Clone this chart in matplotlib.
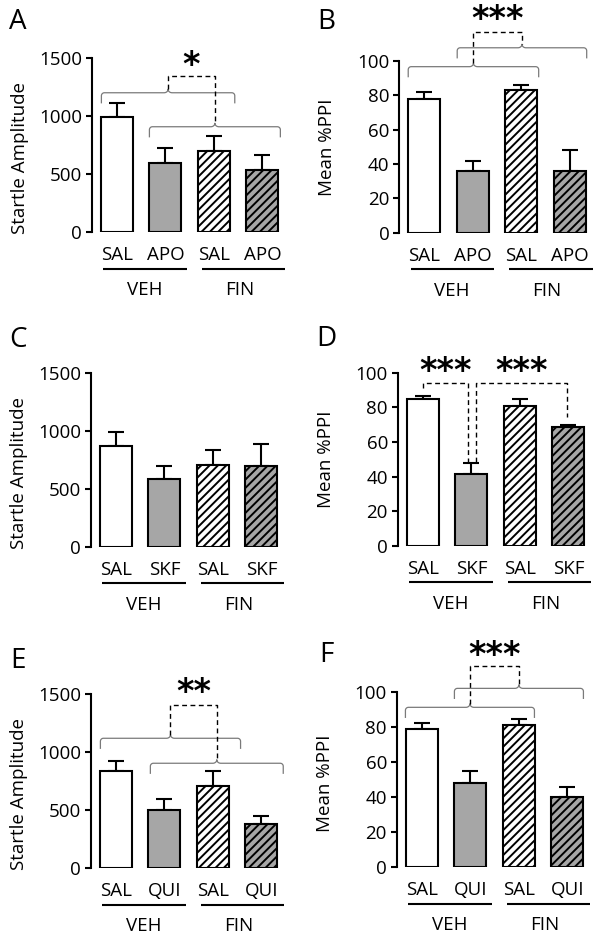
import numpy as np
import matplotlib
matplotlib.use('Agg')
import matplotlib.pyplot as plt

plt.rcParams['font.family'] = ['Open Sans', 'DejaVu Sans']
plt.rcParams['hatch.linewidth'] = 1.4

# ---------------- data ----------------
groups = ['VEH', 'FIN']
drugs_AB = ['SAL', 'APO', 'SAL', 'APO']
drugs_CD = ['SAL', 'SKF', 'SAL', 'SKF']
drugs_EF = ['SAL', 'QUI', 'SAL', 'QUI']

startle_ticks = [0, 500, 1000, 1500]
ppi_ticks = [0, 20, 40, 60, 80, 100]

A_mean = [995, 600, 700, 540]
A_sem = [117, 125, 132, 128]
B_mean = [78, 36, 83, 36]
B_sem = [4, 6, 3.3, 12]
C_mean = [870, 580, 705, 700]
C_sem = [116, 115, 130, 187]
D_mean = [85, 41.5, 81, 68.5]
D_sem = [1.7, 6.3, 3.6, 1.5]
E_mean = [840, 500, 705, 385]
E_sem = [83, 95, 131, 68]
F_mean = [79, 48, 81, 40]
F_sem = [3.2, 6.6, 3.5, 6]

fills = ['white', '#a6a6a6', 'white', '#a6a6a6']
hatches = ['', '', '////', '////']

# ---------------- layout (pixels) ----------------
FW, FH = 601, 939
fig = plt.figure(figsize=(FW / 100, FH / 100), dpi=100)
XL = (-0.52, 3.6)
SPACING = 48.5
AX_W = (XL[1] - XL[0]) * SPACING


def make_ax(left_px, y0_px, ytop_px):
    return fig.add_axes([left_px / FW, (FH - y0_px) / FH, AX_W / FW,
                         (y0_px - ytop_px) / FH])


def px_scale(ax):
    bb = ax.get_position()
    w = bb.width * FW
    h = bb.height * FH
    x0, x1 = ax.get_xlim()
    y0, y1 = ax.get_ylim()
    return (x1 - x0) / w, (y1 - y0) / h


def draw_panel(ax, means, sems, drugs, ylabel, ticks, letter, letter_xy, ylab_frac):
    x = np.arange(len(means))
    ax.set_xlim(*XL)
    ax.set_ylim(ticks[0], ticks[-1])
    for i in range(len(means)):
        ax.bar(x[i], means[i], width=0.66, color=fills[i], edgecolor='black',
               linewidth=1.5, hatch=hatches[i], zorder=3)
    ax.errorbar(x, means, yerr=[np.zeros(len(sems)), sems], fmt='none',
                ecolor='black', elinewidth=1.5, capsize=6, capthick=1.5, zorder=2)
    for s in ['top', 'right', 'bottom']:
        ax.spines[s].set_visible(False)
    ax.spines['left'].set_linewidth(1.5)
    ax.set_yticks(ticks)
    ax.set_yticklabels([str(t) for t in ticks])
    ax.tick_params(axis='y', length=4, width=1.5, labelsize=13.5, pad=3)
    ax.set_xticks([])
    ax.set_ylabel(ylabel, fontsize=13.5)
    ax.yaxis.set_label_coords(-63 / AX_W, ylab_frac)
    sx, sy = px_scale(ax)
    for i, d in enumerate(drugs):
        ax.text(x[i], -28.0 * sy, d, ha='center', va='baseline', fontsize=13.5,
                clip_on=False)
    for (a, b), g, gx in zip([(-0.28, 1.44), (1.75, 3.47)], groups, [0.57, 2.53]):
        ax.plot([a, b], [-36.7 * sy] * 2, color='black', lw=1.5, clip_on=False,
                solid_capstyle='butt')
        ax.text(gx, -63.0 * sy, g, ha='center', va='baseline', fontsize=13.5,
                clip_on=False)
    fig.text(letter_xy[0] / FW, 1 - letter_xy[1] / FH, letter, fontsize=20,
             ha='center', va='center')
    return sx, sy


def brace(ax, x0, x1, y, sx, sy, drop=10, peak=3.5, r=3, r2=4):
    xm = (x0 + x1) / 2
    n = 12
    xs, ys = [x0, x0], [y - drop * sy, y - r * sy]
    a = np.linspace(np.pi, np.pi / 2, n)
    xs += list(x0 + r * sx + r * sx * np.cos(a)); ys += list(y - r * sy + r * sy * np.sin(a))
    a = np.linspace(-np.pi / 2, 0, n)
    xs += list(xm - r2 * sx + r2 * sx * np.cos(a)); ys += list(y + peak * sy + peak * sy * np.sin(a))
    a = np.linspace(np.pi, 1.5 * np.pi, n)
    xs += list(xm + r2 * sx + r2 * sx * np.cos(a)); ys += list(y + peak * sy + peak * sy * np.sin(a))
    a = np.linspace(np.pi / 2, 0, n)
    xs += list(x1 - r * sx + r * sx * np.cos(a)); ys += list(y - r * sy + r * sy * np.sin(a))
    xs += [x1]; ys += [y - drop * sy]
    ax.plot(xs, ys, color='#7a7a7a', lw=0.9, clip_on=False, zorder=4)
    return xm, y + peak * sy


DASH = (0, (3.5, 2.5))


def connector(ax, xa, ya, xb, yb, ytop):
    ax.plot([xa, xa, xb, xb], [ya, ytop, ytop, yb], color='black', lw=1.0,
            ls=DASH, clip_on=False, zorder=4)


def stars(ax, x, y, s):
    ax.text(x, y, s, ha='center', va='center', fontsize=24, fontweight='bold',
            family='DejaVu Sans', clip_on=False)


def brace_pair(ax, sx, sy, b1, b2, ytop, ystar, s):
    c1 = brace(ax, b1[0], b1[1], b1[2], sx, sy)
    c2 = brace(ax, b2[0], b2[1], b2[2], sx, sy)
    connector(ax, c1[0], c1[1], c2[0], c2[1], ytop)
    stars(ax, (c1[0] + c2[0]) / 2, ystar, s)


# Panel A
axA = make_ax(91.7, 232.3, 58.3)
sx, sy = draw_panel(axA, A_mean, A_sem, drugs_AB, 'Startle Amplitude', startle_ticks,
                    'A', (18, 21.7), 0.425)
brace_pair(axA, sx, sy, (-0.32, 2.43, 1203), (0.67, 3.37, 910), 1347, 1440, '*')

# Panel B
axB = make_ax(399, 232.7, 61)
sx, sy = draw_panel(axB, B_mean, B_sem, drugs_AB, 'Mean %PPI', ppi_ticks,
                    'B', (326.7, 21.7), 0.5)
brace_pair(axB, sx, sy, (-0.33, 2.36, 96.7), (0.68, 3.35, 107.7), 117.1, 124, '***')

# Panel C
axC = make_ax(90.7, 546.7, 372.7)
draw_panel(axC, C_mean, C_sem, drugs_CD, 'Startle Amplitude', startle_ticks,
           'C', (18, 340), 0.425)

# Panel D
axD = make_ax(397.7, 545.7, 372.7)
sx, sy = draw_panel(axD, D_mean, D_sem, drugs_CD, 'Mean %PPI', ppi_ticks,
                    'D', (326.7, 339), 0.5)
connector(axD, 0, 91, 0.93, 48.6, 93.9)
stars(axD, 0.465, 100.5, '***')
connector(axD, 1.09, 48.6, 2.97, 74.6, 93.9)
stars(axD, 2.03, 100.5, '***')

# Panel E
axE = make_ax(90.7, 868.3, 694)
sx, sy = draw_panel(axE, E_mean, E_sem, drugs_EF, 'Startle Amplitude', startle_ticks,
                    'E', (18, 661), 0.425)
brace_pair(axE, sx, sy, (-0.32, 2.57, 1119), (0.71, 3.45, 904), 1405, 1515, '**')

# Panel F
axF = make_ax(396.7, 867.3, 691.7)
sx, sy = draw_panel(axF, F_mean, F_sem, drugs_EF, 'Mean %PPI', ppi_ticks,
                    'F', (326.7, 655), 0.48)
brace_pair(axF, sx, sy, (-0.34, 2.32, 91.1), (0.67, 3.33, 101.9), 114.6, 120.8, '***')

fig.savefig('out.png', dpi=100)
